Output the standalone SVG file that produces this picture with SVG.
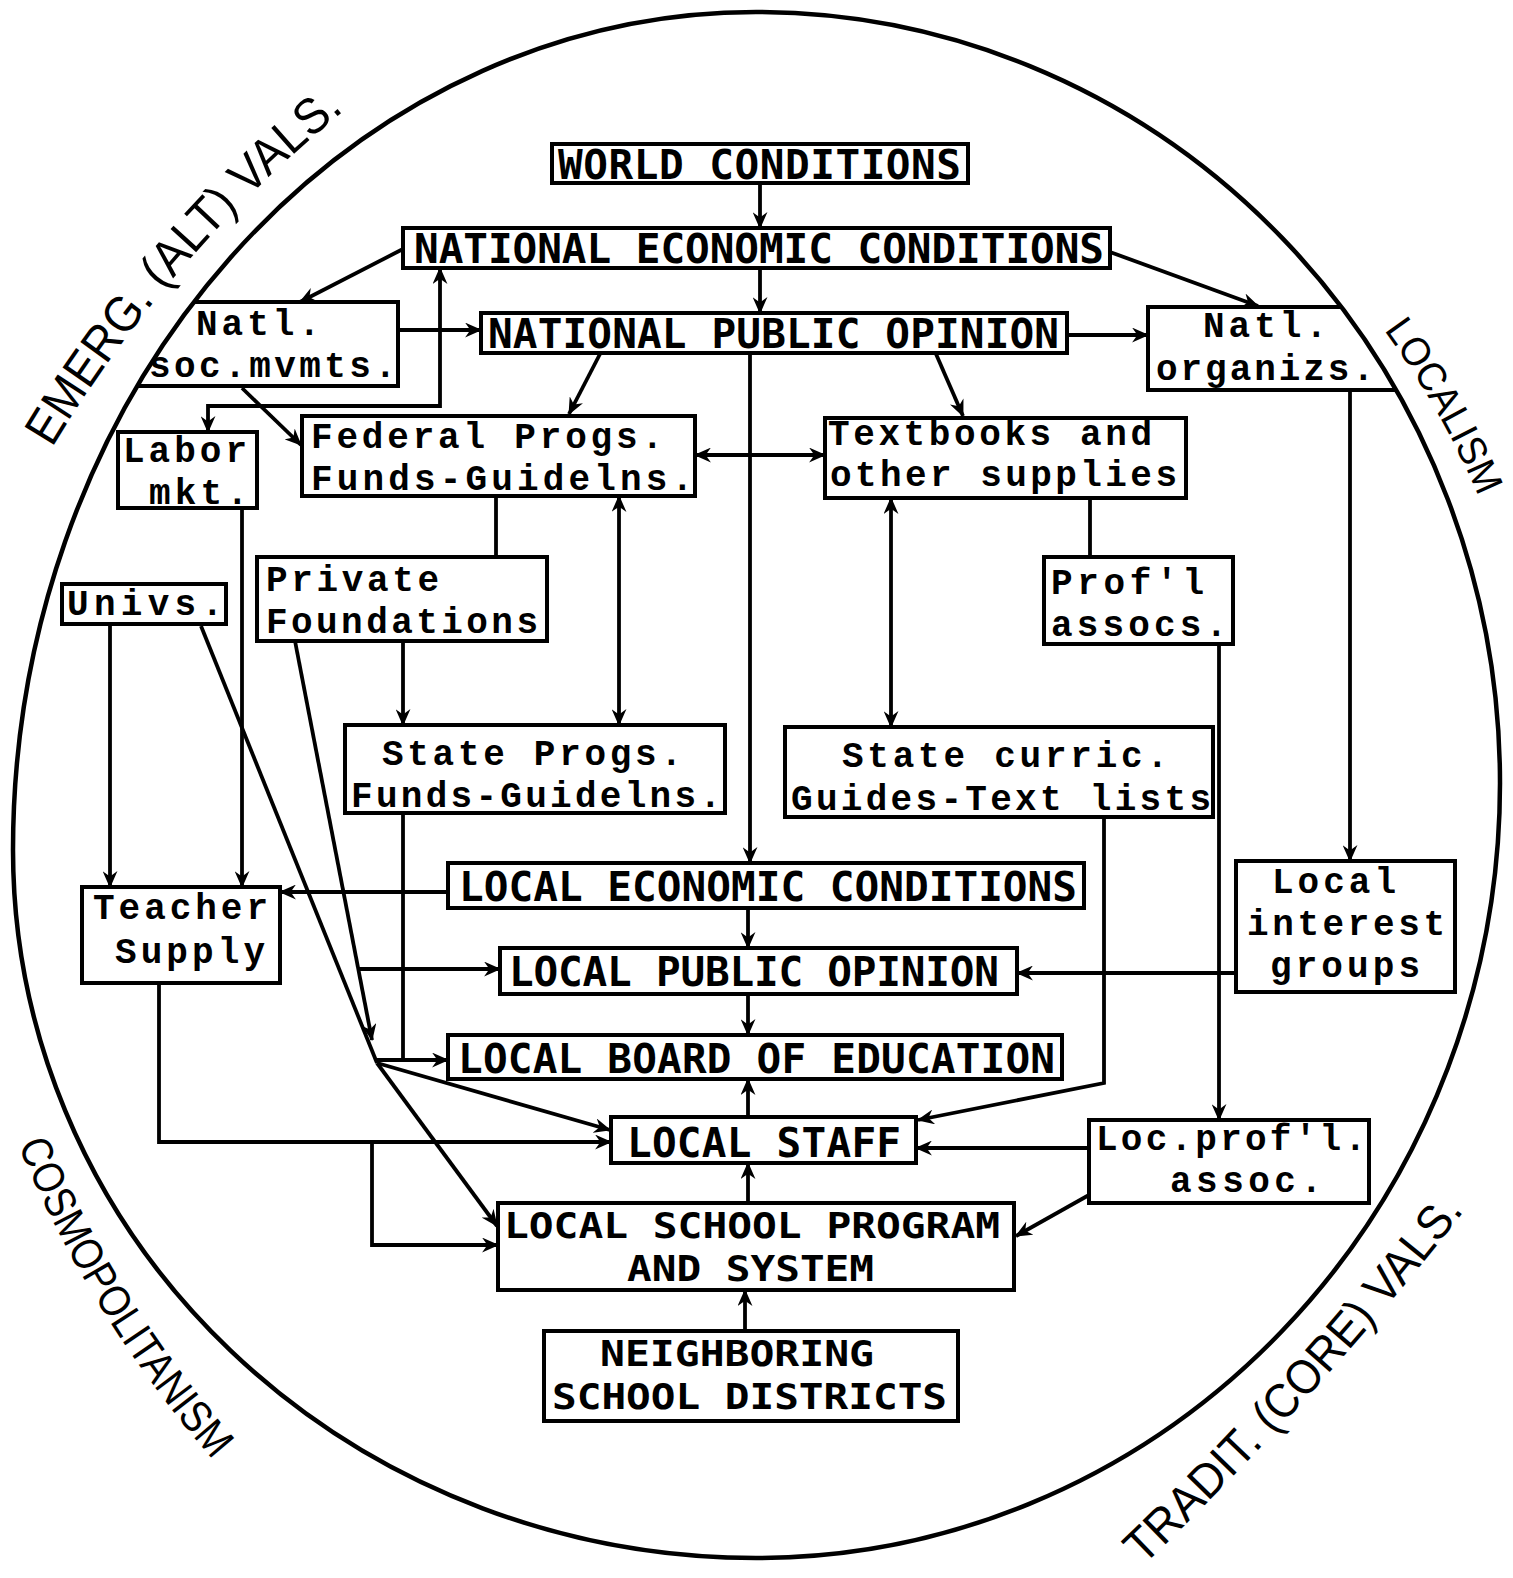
<svg xmlns="http://www.w3.org/2000/svg" width="1513" height="1578" viewBox="0 0 1513 1578">
<defs>
<style>
.bx{fill:none;stroke:#000;stroke-width:4}
.up{font-family:"DejaVu Sans Mono","Liberation Mono",monospace;font-weight:bold;font-size:41px;fill:#000}
.up2{font-family:"DejaVu Sans Mono","Liberation Mono",monospace;font-weight:bold;font-size:36px;fill:#000}
.tw{font-family:"Liberation Mono","DejaVu Sans Mono",monospace;font-weight:bold;font-size:36px;fill:#000}
.lb{font-family:"Liberation Sans",Arial,sans-serif;fill:#000}
.c{fill:none;stroke:#000;stroke-width:3.8}
.a{marker-end:url(#ah)}
.b{marker-start:url(#ah);marker-end:url(#ah)}
</style>
<marker id="ah" viewBox="0 0 16 14" refX="15" refY="7" markerWidth="17" markerHeight="15" markerUnits="userSpaceOnUse" orient="auto-start-reverse">
<path d="M0,0 L16,7 L0,14 L5,7 Z" fill="#000"/>
</marker>
<path id="pe" d="M52,448 Q169,253 345,110"/>
<path id="pl" d="M1384,330 Q1441,408 1480,500"/>
<path id="pc" d="M18,1145 Q90,1319 215,1462"/>
<path id="pt" d="M1143,1566 Q1316,1400 1465,1210"/>
</defs>
<rect width="1513" height="1578" fill="#fff"/>
<path id="outline" d="M756,12 A744,771 0 0 1 1500,783 A744,775 0 0 1 756,1558 A743,708 0 0 1 13,850 A743,838 0 0 1 756,12 Z" fill="none" stroke="#000" stroke-width="4.5"/>
<g id="labels">
<text class="lb" font-size="50"><textPath href="#pe" startOffset="0" textLength="180" lengthAdjust="spacingAndGlyphs">EMERG.</textPath></text>
<text class="lb" font-size="50"><textPath href="#pe" startOffset="192.7" textLength="114" lengthAdjust="spacingAndGlyphs">(ALT)</textPath></text>
<text class="lb" font-size="50"><textPath href="#pe" startOffset="319.8" textLength="129" lengthAdjust="spacingAndGlyphs">VALS.</textPath></text>
<text class="lb" font-size="40"><textPath href="#pl" textLength="192" lengthAdjust="spacingAndGlyphs">LOCALISM</textPath></text>
<text class="lb" font-size="44"><textPath href="#pc" textLength="372" lengthAdjust="spacingAndGlyphs">COSMOPOLITANISM</textPath></text>
<text class="lb" font-size="48"><textPath href="#pt" startOffset="0" textLength="172" lengthAdjust="spacingAndGlyphs">TRADIT.</textPath></text>
<text class="lb" font-size="48"><textPath href="#pt" startOffset="184.6" textLength="157" lengthAdjust="spacingAndGlyphs">(CORE)</textPath></text>
<text class="lb" font-size="48"><textPath href="#pt" startOffset="354.4" textLength="125" lengthAdjust="spacingAndGlyphs">VALS.</textPath></text>
</g>
<g id="n-world"><rect class="bx" x="552" y="144" width="416" height="39"/><text class="up" x="558" y="179" textLength="403">WORLD CONDITIONS</text></g>
<g id="n-nec"><rect class="bx" x="403" y="228" width="707" height="40"/><text class="up" x="414" y="263" textLength="690">NATIONAL ECONOMIC CONDITIONS</text></g>
<g id="n-npo"><rect class="bx" x="481" y="313" width="586" height="40"/><text class="up" x="488" y="348" textLength="571">NATIONAL PUBLIC OPINION</text></g>
<g id="n-natlsoc"><polyline class="bx" points="194,302 398,302 398,386 137,386"/><text class="tw" x="196" y="335" textLength="124">Natl.</text><text class="tw" x="149" y="377" textLength="247">soc.mvmts.</text></g>
<g id="n-natlorg"><polyline class="bx" points="1341,307 1148,307 1148,390 1396,390"/><text class="tw" x="1203" y="337" textLength="124">Natl.</text><text class="tw" x="1156" y="380" textLength="218">organizs.</text></g>
<g id="n-labor"><rect class="bx" x="118" y="432" width="139" height="76"/><text class="tw" x="123" y="462" textLength="124">Labor</text><text class="tw" x="149" y="504" textLength="99">mkt.</text></g>
<g id="n-federal"><rect class="bx" x="302" y="416" width="393" height="80"/><text class="tw" x="311" y="448" textLength="352">Federal Progs.</text><text class="tw" x="311" y="490" textLength="382">Funds-Guidelns.</text></g>
<g id="n-textbooks"><rect class="bx" x="825" y="418" width="361" height="80"/><text class="tw" x="828" y="445" textLength="324">Textbooks and</text><text class="tw" x="830" y="486" textLength="347">other supplies</text></g>
<g id="n-univs"><rect class="bx" x="62" y="584" width="164" height="40"/><text class="tw" x="67" y="615" textLength="156">Univs.</text></g>
<g id="n-private"><rect class="bx" x="257" y="557" width="290" height="84"/><text class="tw" x="266" y="591" textLength="173">Private</text><text class="tw" x="266" y="633" textLength="272">Foundations</text></g>
<g id="n-profl"><rect class="bx" x="1044" y="557" width="189" height="87"/><text class="tw" x="1051" y="594" textLength="153">Prof'l</text><text class="tw" x="1051" y="636" textLength="176">assocs.</text></g>
<g id="n-stateprogs"><rect class="bx" x="345" y="725" width="380" height="88"/><text class="tw" x="382" y="765" textLength="300">State Progs.</text><text class="tw" x="351" y="807" textLength="370">Funds-Guidelns.</text></g>
<g id="n-statecurric"><rect class="bx" x="785" y="727" width="428" height="90"/><text class="tw" x="842" y="767" textLength="326">State curric.</text><text class="tw" x="791" y="810" textLength="420">Guides-Text lists</text></g>
<g id="n-lec"><rect class="bx" x="448" y="863" width="636" height="45"/><text class="up" x="459" y="901" textLength="618">LOCAL ECONOMIC CONDITIONS</text></g>
<g id="n-teacher"><rect class="bx" x="82" y="887" width="198" height="96"/><text class="tw" x="93" y="919" textLength="175">Teacher</text><text class="tw" x="115" y="963" textLength="150">Supply</text></g>
<g id="n-localint"><rect class="bx" x="1236" y="861" width="219" height="131"/><text class="tw" x="1272" y="893" textLength="124">Local</text><text class="tw" x="1247" y="935" textLength="198">interest</text><text class="tw" x="1270" y="977" textLength="150">groups</text></g>
<g id="n-lpo"><rect class="bx" x="500" y="948" width="517" height="46"/><text class="up" x="509" y="986" textLength="490">LOCAL PUBLIC OPINION</text></g>
<g id="n-lbe"><rect class="bx" x="448" y="1035" width="614" height="44"/><text class="up" x="458" y="1073" textLength="597">LOCAL BOARD OF EDUCATION</text></g>
<g id="n-ls"><rect class="bx" x="611" y="1117" width="305" height="46"/><text class="up" x="627" y="1157" textLength="274">LOCAL STAFF</text></g>
<g id="n-locprof"><rect class="bx" x="1089" y="1120" width="280" height="83"/><text class="tw" x="1096" y="1150" textLength="270">Loc.prof'l.</text><text class="tw" x="1170" y="1192" textLength="152">assoc.</text></g>
<g id="n-lsp"><rect class="bx" x="498" y="1203" width="516" height="87"/><text class="up2" x="504" y="1238" textLength="496" lengthAdjust="spacingAndGlyphs">LOCAL SCHOOL PROGRAM</text><text class="up2" x="627" y="1281" textLength="247" lengthAdjust="spacingAndGlyphs">AND SYSTEM</text></g>
<g id="n-nsd"><rect class="bx" x="544" y="1331" width="414" height="90"/><text class="up2" x="600" y="1366" textLength="274" lengthAdjust="spacingAndGlyphs">NEIGHBORING</text><text class="up2" x="552" y="1409" textLength="395" lengthAdjust="spacingAndGlyphs">SCHOOL DISTRICTS</text></g>
<g id="connectors">
<line class="c a" x1="760" y1="183" x2="760" y2="228"/>
<line class="c a" x1="760" y1="268" x2="760" y2="313"/>
<line class="c a" x1="403" y1="249" x2="300" y2="302"/>
<line class="c a" x1="1110" y1="252" x2="1258" y2="306"/>
<line class="c a" x1="398" y1="330" x2="481" y2="330"/>
<line class="c a" x1="1067" y1="335" x2="1148" y2="335"/>
<path class="c b" d="M440,268 V406 H208 V432"/>
<line class="c a" x1="242" y1="388" x2="301" y2="445"/>
<line class="c a" x1="600" y1="354" x2="569" y2="414"/>
<line class="c a" x1="936" y1="354" x2="963" y2="416"/>
<line class="c b" x1="695" y1="455" x2="825" y2="455"/>
<line class="c a" x1="750" y1="353" x2="750" y2="863"/>
<line class="c" x1="496" y1="496" x2="496" y2="557"/>
<line class="c b" x1="619" y1="496" x2="619" y2="725"/>
<line class="c b" x1="891" y1="498" x2="891" y2="727"/>
<line class="c" x1="1090" y1="498" x2="1090" y2="557"/>
<line class="c a" x1="1350" y1="390" x2="1350" y2="861"/>
<line class="c a" x1="242" y1="508" x2="242" y2="887"/>
<line class="c a" x1="110" y1="624" x2="110" y2="887"/>
<line class="c" x1="201" y1="626" x2="377" y2="1063"/>
<line class="c a" x1="377" y1="1063" x2="497" y2="1226"/>
<line class="c a" x1="295" y1="641" x2="372" y2="1040"/>
<line class="c a" x1="359" y1="969" x2="500" y2="969"/>
<line class="c a" x1="448" y1="892" x2="280" y2="892"/>
<line class="c a" x1="403" y1="641" x2="403" y2="725"/>
<line class="c" x1="403" y1="813" x2="403" y2="1060"/>
<line class="c a" x1="377" y1="1060" x2="448" y2="1060"/>
<line class="c a" x1="377" y1="1063" x2="610" y2="1130"/>
<path class="c a" d="M159,983 V1142 H611"/>
<path class="c a" d="M372,1142 V1245 H498"/>
<line class="c a" x1="748" y1="908" x2="748" y2="948"/>
<line class="c a" x1="748" y1="994" x2="748" y2="1035"/>
<line class="c a" x1="748" y1="1117" x2="748" y2="1079"/>
<line class="c a" x1="748" y1="1203" x2="748" y2="1163"/>
<line class="c a" x1="745" y1="1331" x2="745" y2="1290"/>
<line class="c a" x1="1236" y1="973" x2="1017" y2="973"/>
<path class="c a" d="M1104,817 V1083 L918,1120"/>
<line class="c a" x1="1219" y1="644" x2="1219" y2="1120"/>
<line class="c a" x1="1089" y1="1148" x2="916" y2="1148"/>
<line class="c a" x1="1089" y1="1195" x2="1016" y2="1236"/>
</g>
</svg>
